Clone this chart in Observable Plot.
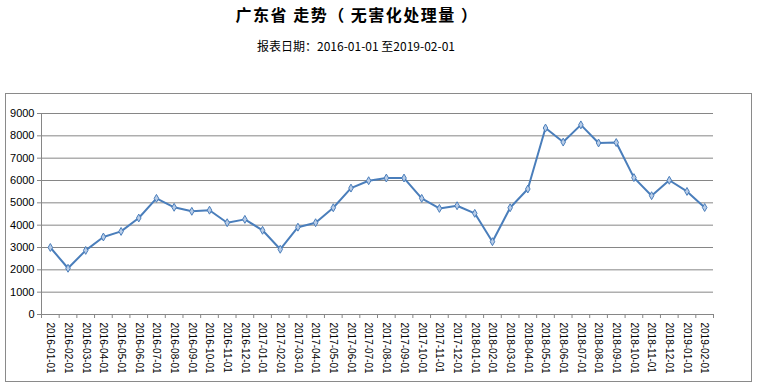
<!DOCTYPE html>
<html>
<head>
<meta charset="utf-8">
<script src="https://cdn.jsdelivr.net/npm/d3@7"></script>
<script src="https://cdn.jsdelivr.net/npm/@observablehq/plot@0.6"></script>
<style>
  html, body { margin: 0; padding: 0; background: #fff; }
  #wrap { position: relative; width: 760px; height: 388px; overflow: hidden; font-family: "Noto Sans CJK SC", sans-serif; }
  #title { position: absolute; left: 0; width: 714px; top: 3px; text-align: center; font-size: 16px; font-weight: bold; color: #000; line-height: 22px; letter-spacing: 1.5px; }
  #subtitle { position: absolute; left: 0; width: 712px; top: 38px; text-align: center; font-size: 12px; color: #000; line-height: 16px; }
  #box { position: absolute; left: 5px; top: 93px; width: 745px; height: 287px; border: 1px solid #8a8a8a; }
  #chart { position: absolute; left: 0; top: 93px; }
</style>
</head>
<body>
<div id="wrap">
  <div id="title">广东省 走势（ 无害化处理量 ）</div>
  <div id="subtitle">报表日期：2016-01-01 至2019-02-01</div>
  <div id="box"></div>
  <div id="chart"></div>
</div>
<script>
const dates = [
  "2016-01-01","2016-02-01","2016-03-01","2016-04-01","2016-05-01","2016-06-01",
  "2016-07-01","2016-08-01","2016-09-01","2016-10-01","2016-11-01","2016-12-01",
  "2017-01-01","2017-02-01","2017-03-01","2017-04-01","2017-05-01","2017-06-01",
  "2017-07-01","2017-08-01","2017-09-01","2017-10-01","2017-11-01","2017-12-01",
  "2018-01-01","2018-02-01","2018-03-01","2018-04-01","2018-05-01","2018-06-01",
  "2018-07-01","2018-08-01","2018-09-01","2018-10-01","2018-11-01","2018-12-01",
  "2019-01-01","2019-02-01"
];
const values = [
  3000, 2070, 2870, 3470, 3720, 4320, 5200, 4800, 4620, 4670, 4110, 4260,
  3770, 2920, 3910, 4110, 4780, 5660, 5990, 6110, 6110, 5200, 4750, 4870,
  4530, 3260, 4780, 5620, 8350, 7720, 8490, 7680, 7700, 6130, 5320, 6010,
  5510, 4790
];
const yTicks = [0, 1000, 2000, 3000, 4000, 5000, 6000, 7000, 8000, 9000];

const data = dates.map((d, i) => ({date: d, idx: i + 0.5, value: values[i]}));
const boundaries = d3.range(dates.length + 1);
const centers = dates.map((d, i) => i + 0.5);

const blue = "#4a7ebb";
const grid = "#868686";

const chart = Plot.plot({
  width: 760,
  height: 290,
  marginLeft: 41,
  marginRight: 47,
  marginTop: 20,
  marginBottom: 69,
  style: {fontFamily: "'Liberation Sans', sans-serif", fontSize: "10px", color: "#000", background: "transparent"},
  x: {domain: [0, dates.length], type: "linear"},
  y: {domain: [0, 9000]},
  marks: [
    Plot.ruleY(yTicks.filter(v => v > 0), {stroke: grid, strokeWidth: 1}),
    Plot.ruleY([0], {stroke: grid, strokeWidth: 1}),
    Plot.ruleX([0], {y1: 0, y2: 9000, stroke: grid, strokeWidth: 1}),
    Plot.axisY(yTicks, {tickSize: 4, tickPadding: 3, stroke: grid, fontSize: 11, tickFormat: d => String(d), label: null}),
    Plot.axisX(boundaries, {tickSize: 4, tickFormat: () => "", stroke: grid, label: null}),
    Plot.axisX(centers, {tickSize: 0, tickPadding: 8, tickRotate: 90, tickFormat: v => dates[Math.round(v - 0.5)], label: null, fontSize: 10}),
    Plot.line(data, {x: "idx", y: "value", stroke: blue, strokeWidth: 2}),
    Plot.dot(data, {x: "idx", y: "value", symbol: "diamond", r: 2.4, fill: "#b9cde8", stroke: blue, strokeWidth: 1})
  ]
});
document.getElementById("chart").appendChild(chart);
</script>
</body>
</html>
